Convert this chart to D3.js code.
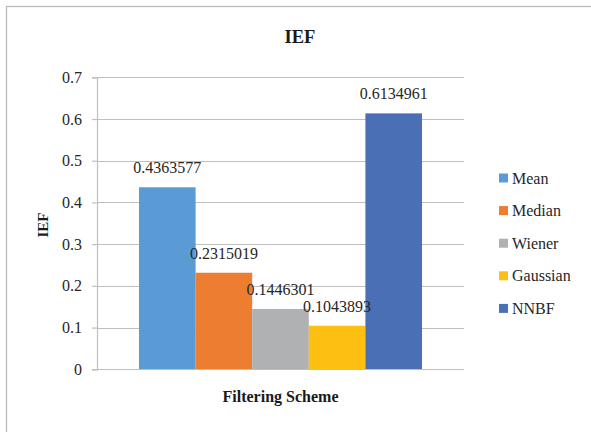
<!DOCTYPE html>
<html>
<head>
<meta charset="utf-8">
<script src="https://cdn.jsdelivr.net/npm/d3@7"></script>
<style>
  html, body { margin: 0; padding: 0; background: #fff; }
  svg { display: block; }
  text { font-family: "Liberation Serif", "Times New Roman", serif; }
</style>
</head>
<body>
<svg id="chart" width="591" height="432"></svg>
<script>
// Filtering schemes compared by IEF
const schemes = ["Mean", "Median", "Wiener", "Gaussian", "NNBF"];
const iefValues = [0.4363577, 0.2315019, 0.1446301, 0.1043893, 0.6134961];
const schemeColors = ["#5b9bd5", "#ed7d31", "#b0b1b3", "#fdbf12", "#4a6fb5"];
const yTicks = [0, 0.1, 0.2, 0.3, 0.4, 0.5, 0.6, 0.7];
const chartTitle = "IEF";
const xTitle = "Filtering Scheme";
const yTitle = "IEF";

const FONT = "'Liberation Serif', 'Times New Roman', serif";
const svg = d3.select("#chart");
const plot = { left: 97, right: 464, top: 77.3, bottom: 369.3 };

// outer frame
svg.append("rect")
  .attr("x", 6.5).attr("y", 6.5)
  .attr("width", 600).attr("height", 440)
  .attr("fill", "#fff")
  .attr("stroke", "#bdbdbd").attr("stroke-width", 1.3);

const y = d3.scaleLinear().domain([0, 0.7]).range([plot.bottom, plot.top]);

// one category group; bars laid out within it by series
const x = d3.scaleBand().domain(schemes).range([139, 422]).padding(0);

// gridlines
svg.append("g")
  .selectAll("line")
  .data(yTicks.filter(t => t > 0))
  .join("line")
  .attr("x1", plot.left).attr("x2", plot.right)
  .attr("y1", d => Math.round(y(d)) + 0.5).attr("y2", d => Math.round(y(d)) + 0.5)
  .attr("stroke", "#bfbfbf").attr("stroke-width", 1.2);

// y axis
const yAxis = d3.axisLeft(y).tickValues(yTicks).tickSize(5).tickPadding(10)
  .tickFormat(d => d === 0 ? "0" : d3.format(".1f")(d));
const gy = svg.append("g").attr("transform", `translate(${plot.left},0)`).call(yAxis)
  .attr("font-family", FONT).attr("font-size", 16);
gy.select(".domain").attr("stroke", "#bfbfbf").attr("stroke-width", 1.2);
gy.selectAll(".tick line").attr("stroke", "#bfbfbf").attr("stroke-width", 1.2);
gy.selectAll(".tick text").attr("fill", "#262626");

// bars
svg.append("g")
  .selectAll("rect")
  .data(schemes)
  .join("rect")
  .attr("x", d => x(d))
  .attr("width", x.bandwidth())
  .attr("y", (d, i) => y(iefValues[i]))
  .attr("height", (d, i) => y(0) - y(iefValues[i]))
  .attr("fill", (d, i) => schemeColors[i]);

// baseline
svg.append("line")
  .attr("x1", plot.left - 5).attr("x2", plot.right)
  .attr("y1", Math.round(y(0)) + 0.5).attr("y2", Math.round(y(0)) + 0.5)
  .attr("stroke", "#bfbfbf").attr("stroke-width", 1.2);

// value labels
svg.append("g")
  .attr("font-family", FONT).attr("font-size", 16)
  .selectAll("text")
  .data(schemes)
  .join("text")
  .attr("x", d => x(d) + x.bandwidth() / 2)
  .attr("y", (d, i) => y(iefValues[i]) - 14)
  .attr("text-anchor", "middle")
  .attr("fill", "#262626")
  .text((d, i) => iefValues[i]);

// titles
svg.append("text")
  .attr("x", 300).attr("y", 43)
  .attr("text-anchor", "middle")
  .attr("fill", "#1a1a1a")
  .attr("font-family", FONT).attr("font-size", 18.5).attr("font-weight", "bold")
  .text(chartTitle);

svg.append("text")
  .attr("x", (plot.left + plot.right) / 2).attr("y", 402)
  .attr("text-anchor", "middle")
  .attr("fill", "#1a1a1a")
  .attr("font-family", FONT).attr("font-size", 16).attr("font-weight", "bold")
  .text(xTitle);

svg.append("text")
  .attr("transform", "translate(48,225) rotate(-90)")
  .attr("text-anchor", "middle")
  .attr("fill", "#1a1a1a")
  .attr("font-family", FONT).attr("font-size", 15).attr("font-weight", "bold")
  .text(yTitle);

// legend
const legend = svg.append("g")
  .attr("font-family", FONT).attr("font-size", 16)
  .selectAll("g")
  .data(schemes)
  .join("g")
  .attr("transform", (d, i) => `translate(499,${178 + i * 32.6})`);
legend.append("rect")
  .attr("x", 0).attr("y", -4.5)
  .attr("width", 9).attr("height", 9)
  .attr("fill", (d, i) => schemeColors[i]);
legend.append("text")
  .attr("x", 13).attr("y", 5.5)
  .attr("fill", "#262626")
  .text(d => d);
</script>
</body>
</html>
